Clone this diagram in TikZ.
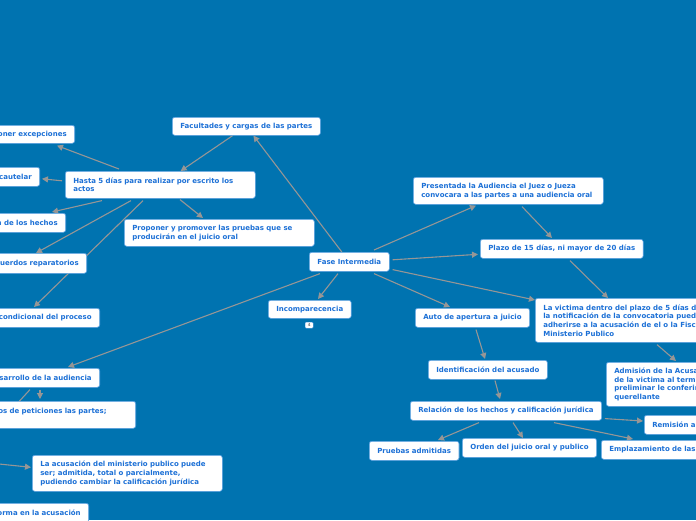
\documentclass[tikz,border=0pt]{standalone}
\usepackage{fontspec}
\setsansfont{DejaVu Sans}
\usetikzlibrary{arrows.meta}
\pgfdeclarelayer{background}
\pgfsetlayers{background,main}

\definecolor{mapbg}{RGB}{0,115,176}
\definecolor{topictext}{RGB}{28,112,214}
\definecolor{topicedge}{RGB}{90,160,225}
\definecolor{linkgray}{RGB}{150,150,150}

\tikzset{
  topic/.style={fill=white, draw=topicedge, line width=0.6pt, rounded corners=2.5pt,
    text=topictext, font=\sffamily\bfseries\fontsize{7}{8.7}\selectfont,
    inner xsep=8pt, inner ysep=2pt, anchor=north west},
  link/.style={draw=linkgray, line width=1.1pt, -{Triangle[length=6pt,width=6pt]}},
}

\begin{document}
\begin{tikzpicture}[x=1pt,y=-1pt]
\useasboundingbox (0,0) rectangle (696,520);

% centre
\node[topic, minimum width=80pt, minimum height=19pt] (fase) at (309,252) {Fase Intermedia};

% left branch
\node[topic, minimum width=145pt, minimum height=18pt] (facult) at (172,117) {Facultades y cargas de las partes};
\node[topic, text width=174pt, align=left, minimum height=27pt] (hasta) at (65,171) {\mbox{Hasta 5 días para realizar por escrito los}\\actos};
\node[topic, anchor=north east, text width=144pt, align=right, minimum height=18pt] (excep) at (75,125) {oner excepciones};
\node[topic, anchor=north east, text width=84pt, align=right, minimum height=19pt] (caut) at (40,167) {cautelar};
\node[topic, anchor=north east, text width=124pt, align=right, minimum height=19pt] (hech) at (66,213) {n de los hechos};
\node[topic, anchor=north east, text width=144pt, align=right, minimum height=20pt] (acuer) at (87,253) {cuerdos reparatorios};
\node[topic, anchor=north east, text width=164pt, align=right, minimum height=19pt] (condic) at (100,308) {condicional del proceso};
\node[topic, text width=174pt, align=left, minimum height=27pt] (prop) at (124,219) {\mbox{Proponer y promover las pruebas que se}\\\mbox{producirán en el juicio oral}};

\node[topic, minimum width=82pt, minimum height=18pt] (incomp) at (268,300) {Incomparecencia};
\node[fill=white, draw=topicedge, line width=0.4pt, rounded corners=1pt, inner sep=0.5pt,
  minimum width=8pt, minimum height=6pt, text=gray,
  font=\sffamily\bfseries\fontsize{4}{4}\selectfont, anchor=north west] (badge) at (305,322) {4};

\node[topic, anchor=north east, text width=164pt, align=right, minimum height=19pt] (desarr) at (100,368) {sarrollo de la audiencia};
\node[topic, anchor=north east, text width=204pt, align=right, minimum height=27pt] (petic) at (136,401) {\mbox{os de peticiones las partes;\hspace{21pt}}\\\mbox{}};
\node[topic, text width=174pt, align=left, minimum height=36pt] (acus) at (32,455) {\mbox{La acusación del ministerio publico puede}\\\mbox{ser; admitida, total o parcialmente,}\\\mbox{pudiendo cambiar la calificación jurídica}};
\node[topic, anchor=north east, text width=144pt, align=right, minimum height=19pt] (forma) at (89,503) {orma en la acusación};
\coordinate (offa) at (-20,444);
\coordinate (offb) at (-30,461);

% right branch
\node[topic, text width=174pt, align=left, minimum height=27pt] (present) at (413,177) {\mbox{Presentada la Audiencia el Juez o Jueza}\\\mbox{convocara a las partes a una audiencia oral}};
\node[topic, minimum width=161pt, minimum height=19pt] (plazo) at (480,239) {Plazo de 15 días, ni mayor de 20 días};
\node[topic, align=left, minimum height=44pt] (victima) at (535,298) {La victima dentro del plazo de 5 días de\\la notificación de la convocatoria puede\\adherirse a la acusación de el o la Fisca\\Ministerio Publico};
\node[topic, align=left, minimum height=44pt] (admis) at (606,362) {Admisión de la Acusa\\de la victima al termi\\preliminar le conferir\\querellante};
\node[topic, minimum width=113pt, minimum height=19pt] (auto) at (415,308) {Auto de apertura a juicio};
\node[topic, minimum width=119pt, minimum height=19pt] (ident) at (428,360) {Identificación del acusado};
\node[topic, minimum width=190pt, minimum height=19pt] (relac) at (410,401) {Relación de los hechos y calificación jurídica};
\node[topic, text width=104pt, align=left, minimum height=19pt] (remis) at (644,415) {Remisión al};
\node[topic, minimum width=88pt, minimum height=19pt] (pruebas) at (369,441) {Pruebas admitidas};
\node[topic, minimum width=134pt, minimum height=19pt] (orden) at (462,438) {Orden del juicio oral y publico};
\node[topic, text width=144pt, align=left, minimum height=19pt] (emplaz) at (601,440) {Emplazamiento de las};

\begin{pgfonlayer}{background}
\fill[mapbg] (0,0) rectangle (696,520);

\draw[link] (fase) -- (facult);
\draw[link] (facult) -- (hasta);
\draw[link] ([xshift=54pt,yshift=2pt]hasta.north west) -- ([xshift=-18pt,yshift=-2pt]excep.south east);
\draw[link] ([xshift=-3pt,yshift=4pt]hasta.west) -- ([xshift=2pt,yshift=-2pt]caut.east);
\draw[link] ([xshift=37pt,yshift=-2pt]hasta.south west) -- ([xshift=-14pt,yshift=1pt]hech.north east);
\draw[link] ([xshift=66pt,yshift=-2pt]hasta.south west) -- ([xshift=-51pt]acuer.north east);
\draw[link] ([xshift=78pt,yshift=-2pt]hasta.south west) -- ([xshift=-66pt,yshift=1pt]condic.north east);
\draw[link] ([xshift=115pt,yshift=-1pt]hasta.south west) -- ([xshift=79pt,yshift=1pt]prop.north west);

\draw[link] ([xshift=11pt,yshift=-2pt]fase.south west) -- ([xshift=-32pt,yshift=1pt]desarr.north east);
\draw[link] ([xshift=-60pt,yshift=-2pt]desarr.south east) -- ([xshift=-96pt,yshift=2pt]petic.north east);
\draw[link, -] ([xshift=-70pt,yshift=-2pt]desarr.south east) -- (offa);
\draw[link] (offb) -- ([xshift=-1pt,yshift=6pt]acus.west);
\draw[link] ([xshift=29pt,yshift=-2pt]fase.south west) -- ([xshift=50pt,yshift=1pt]incomp.north west);

\draw[link] ([xshift=65pt,yshift=2pt]fase.north west) -- ([xshift=63pt,yshift=-1pt]present.south west);
\draw[link] ([xshift=109pt,yshift=-2pt]present.south west) -- ([xshift=72pt,yshift=1pt]plazo.north west);
\draw[link] ([xshift=3pt,yshift=2pt]fase.east) -- ([xshift=-2pt,yshift=-5.5pt]plazo.west);
\draw[link] ([xshift=90pt,yshift=-2pt]plazo.south west) -- ([xshift=73pt]victima.north west);
\draw[link] ([xshift=3pt,yshift=2pt]fase.south east) -- ([yshift=-2pt]victima.north west);
\draw[link] ([xshift=65pt,yshift=-2pt]fase.south west) -- ([xshift=35pt,yshift=1pt]auto.north west);
\draw[link] ([xshift=122pt,yshift=-2pt]victima.south west) -- ([xshift=70pt,yshift=1pt]admis.north west);
\draw[link] ([xshift=61pt,yshift=-2pt]auto.south west) -- ([xshift=57pt,yshift=1pt]ident.north west);
\draw[link] ([xshift=67pt,yshift=-1pt]ident.south west) -- ([xshift=90pt,yshift=2pt]relac.north west);
\draw[link] ([xshift=69pt,yshift=-2pt]relac.south west) -- ([xshift=69pt,yshift=1pt]pruebas.north west);
\draw[link] ([xshift=103pt,yshift=-2pt]relac.south west) -- ([xshift=61pt]orden.north west);
\draw[link] ([xshift=3pt,yshift=2pt]relac.south east) -- ([xshift=-1pt,yshift=-6pt]remis.north west);
\draw[link] ([xshift=144pt,yshift=-2pt]relac.south west) -- ([xshift=32pt,yshift=1pt]emplaz.north west);
\end{pgfonlayer}
\end{tikzpicture}
\end{document}
